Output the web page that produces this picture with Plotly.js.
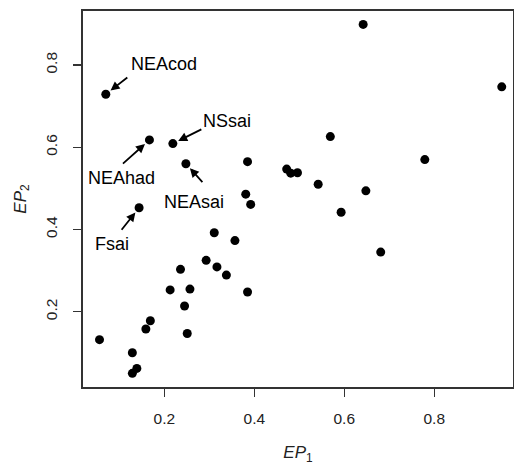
<!DOCTYPE html>
<html>
<head>
<meta charset="utf-8">
<script src="https://cdn.plot.ly/plotly-3.0.1.min.js"></script>
<style>html,body{margin:0;padding:0;background:#fff;}#chart{width:514px;height:465px;}</style>
</head>
<body>
<div id="chart"></div>
<script>
// EP1 / EP2 values
var ep1 = [0.070, 0.167, 0.219, 0.248, 0.144, 0.385, 0.381, 0.392, 0.311, 0.357,
           0.293, 0.317, 0.338, 0.236, 0.213, 0.257, 0.385, 0.245, 0.169, 0.159,
           0.251, 0.056, 0.129, 0.139, 0.129, 0.642, 0.950, 0.569, 0.779, 0.472,
           0.481, 0.496, 0.542, 0.648, 0.593, 0.681];
var ep2 = [0.729, 0.618, 0.609, 0.560, 0.453, 0.565, 0.486, 0.461, 0.392, 0.373,
           0.325, 0.309, 0.289, 0.303, 0.253, 0.255, 0.248, 0.214, 0.178, 0.158,
           0.147, 0.132, 0.100, 0.062, 0.050, 0.899, 0.747, 0.626, 0.570, 0.547,
           0.537, 0.538, 0.510, 0.494, 0.442, 0.345];

// Labelled stocks (index into the arrays above)
var labelNames = ["NEAcod", "NEAhad", "NSsai", "NEAsai", "Fsai"];
var labelIdx   = [0, 1, 2, 3, 4];

// label text offsets and arrow-tail offsets (pixels) — styling only
var textShift = [[58, 30], [-28, -38], [54, 23], [8, -38], [-27, -36]];
var arrowTail = [[23, -18], [-28, 25], [30, -15], [18, 20], [-19, 24]];

var annotations = [];
for (var i = 0; i < labelNames.length; i++) {
  var k = labelIdx[i];
  annotations.push({
    x: ep1[k], y: ep2[k], xref: 'x', yref: 'y',
    text: ' ', showarrow: true,
    font: {size: 1},
    ax: arrowTail[i][0], ay: arrowTail[i][1],
    arrowhead: 2, arrowsize: 1, arrowwidth: 1.8, arrowcolor: '#000',
    standoff: 6
  });
  annotations.push({
    x: ep1[k], y: ep2[k], xref: 'x', yref: 'y',
    text: labelNames[i], showarrow: false,
    xshift: textShift[i][0], yshift: textShift[i][1],
    font: {family: 'Liberation Sans, Arial, sans-serif', size: 18, color: '#000'}
  });
}

var trace = {
  x: ep1, y: ep2, mode: 'markers', type: 'scatter',
  marker: {color: '#000', size: 9},
  hoverinfo: 'none'
};

var axisFont = {family: 'Liberation Sans, Arial, sans-serif', size: 15.5, color: '#222'};

var layout = {
  width: 514, height: 465,
  margin: {l: 83, r: 1, t: 11, b: 78},
  paper_bgcolor: '#fff', plot_bgcolor: '#fff',
  showlegend: false,
  xaxis: {
    range: [0.0193, 0.975],
    tickvals: [0.2, 0.4, 0.6, 0.8],
    ticktext: ['0.2', '0.4', '0.6', '0.8'],
    ticks: 'outside', ticklen: 8, tickwidth: 1.5, tickcolor: '#333',
    showline: true, mirror: true, linecolor: '#333', linewidth: 2,
    showgrid: false, zeroline: false,
    tickfont: axisFont, ticklabelstandoff: 8,
    title: {text: '<i>EP</i><sub>1</sub>', font: {family: 'Liberation Sans, Arial, sans-serif', size: 17, color: '#222'}, standoff: 21}
  },
  yaxis: {
    range: [0.0168, 0.9316],
    tickvals: [0.2, 0.4, 0.6, 0.8],
    ticktext: ['0.2', '0.4', '0.6', '0.8'],
    tickangle: -90,
    ticks: 'outside', ticklen: 8, tickwidth: 1.5, tickcolor: '#333',
    showline: true, mirror: true, linecolor: '#333', linewidth: 2,
    showgrid: false, zeroline: false,
    tickfont: axisFont, ticklabelstandoff: 10,
    title: {text: '<i>EP</i><sub>2</sub>', font: {family: 'Liberation Sans, Arial, sans-serif', size: 17, color: '#222'}, standoff: 12}
  },
  annotations: annotations
};

Plotly.newPlot('chart', [trace], layout, {staticPlot: true, displayModeBar: false});
</script>
</body>
</html>
